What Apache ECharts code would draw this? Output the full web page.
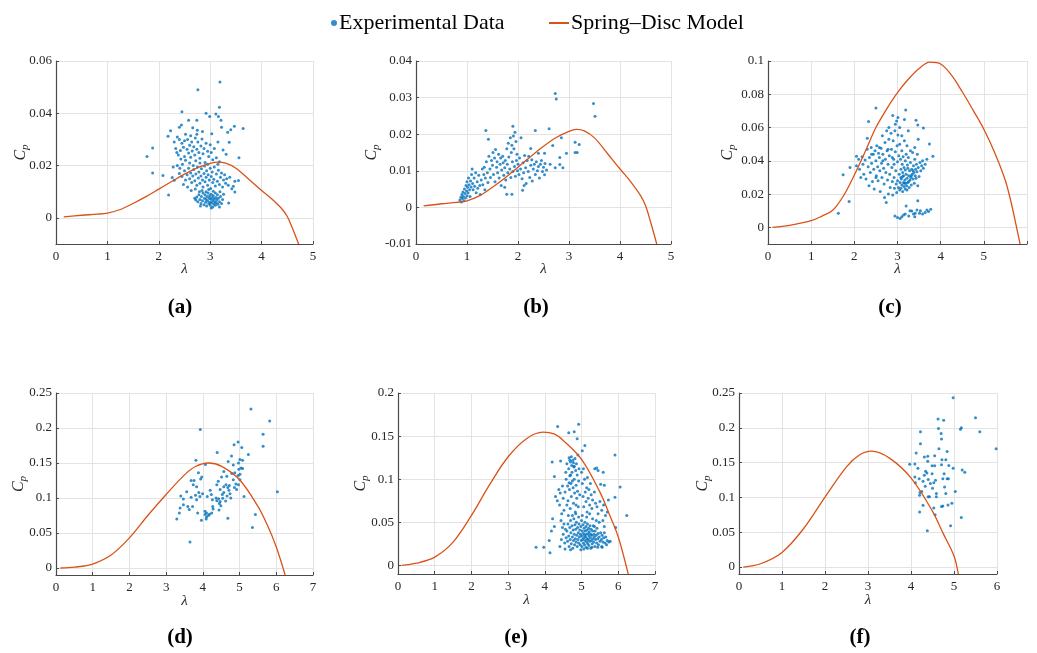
<!DOCTYPE html>
<html><head><meta charset="utf-8">
<script src="https://cdn.jsdelivr.net/npm/echarts@6/dist/echarts.min.js"></script>
<style>html,body{margin:0;padding:0;background:#fff}#c{width:1037px;height:653px}</style>
</head><body><div id="c"></div>
<script>
// ---------------- data ----------------
const seriesNames = ['Experimental Data', 'Spring–Disc Model'];
const panelLabels = ['(a)', '(b)', '(c)', '(d)', '(e)', '(f)'];

const xTicks5 = [0, 1, 2, 3, 4, 5];
const xTicks6 = [0, 1, 2, 3, 4, 5, 6];
const xTicks7 = [0, 1, 2, 3, 4, 5, 6, 7];
const xLabelsC = [0, 1, 2, 3, 4, 5];
const yTicksA = [0, 0.02, 0.04, 0.06];
const yTicksB = [-0.01, 0, 0.01, 0.02, 0.03, 0.04];
const yTicksC = [0, 0.02, 0.04, 0.06, 0.08, 0.1];
const yTicksD = [0, 0.05, 0.1, 0.15, 0.2, 0.25];
const yTicksE = [0, 0.05, 0.1, 0.15, 0.2];
const yTicksF = [0, 0.05, 0.1, 0.15, 0.2, 0.25];

const curveAB = [[0.15,0.0004],[0.5,0.0010],[0.8,0.0014],[1.0,0.0018],[1.25,0.0032],[1.5,0.0055],[1.75,0.0081],[2.0,0.0110],[2.25,0.0139],[2.5,0.0167],[2.75,0.0191],[3.0,0.0208],[3.15,0.0213],[3.3,0.0209],[3.5,0.0190],[3.75,0.0148],[4.0,0.0105],[4.2,0.0072],[4.4,0.0033],[4.5,0.0005],[4.6,-0.0040],[4.72,-0.0100]];
const curveC = [[0.1,0],[0.5,0.0012],[1.0,0.0040],[1.25,0.0068],[1.5,0.0103],[1.75,0.0190],[2.0,0.0315],[2.25,0.0455],[2.5,0.0600],[2.75,0.0712],[3.0,0.0810],[3.25,0.0890],[3.5,0.0955],[3.75,0.0993],[4.0,0.0982],[4.25,0.0915],[4.5,0.0815],[4.75,0.0705],[5.0,0.0590],[5.25,0.0450],[5.5,0.0280],[5.65,0.0130],[5.75,0.0010],[5.84,-0.0100]];
const curveD = [[0.12,0],[0.5,0.0012],[1.0,0.0057],[1.5,0.0185],[2.0,0.0430],[2.5,0.0750],[3.0,0.1050],[3.5,0.1330],[3.8,0.1450],[4.15,0.1500],[4.5,0.1455],[5.0,0.1260],[5.5,0.0880],[5.75,0.0620],[6.0,0.0300],[6.24,-0.0100]];
const curveE = [[0.1,0],[0.5,0.0025],[1.0,0.0096],[1.5,0.0270],[2.0,0.0580],[2.5,0.0940],[3.0,0.1260],[3.5,0.1470],[3.95,0.1545],[4.25,0.1525],[4.5,0.1450],[5.0,0.1230],[5.5,0.0850],[5.75,0.0600],[6.0,0.0330],[6.27,-0.0100]];
const curveF = [[0.1,0],[0.5,0.0047],[1.0,0.0210],[1.5,0.0550],[2.0,0.1005],[2.5,0.1440],[2.8,0.1610],[3.08,0.1665],[3.5,0.1565],[4.0,0.1280],[4.5,0.0800],[4.75,0.0480],[5.0,0.0160],[5.1,-0.0100]];

const ptsA = [
[3.19,0.0520],[2.76,0.0490],[3.18,0.0423],[2.45,0.0406],[2.92,0.0400],[2.99,0.0388],[3.11,0.0397],[3.16,0.0388],[3.21,0.0373],[2.74,0.0373],[2.58,0.0373],[2.44,0.0355],[2.40,0.0347],[3.64,0.0342],[3.47,0.0350],[3.40,0.0337],[3.34,0.0327],[3.22,0.0347],[2.23,0.0333],[2.18,0.0312],[2.36,0.0309],[2.62,0.0314],[2.74,0.0320],[2.85,0.0330],[3.03,0.0322],[3.37,0.0289],[1.88,0.0267],[1.77,0.0235],[1.88,0.0172],[2.08,0.0162],[2.19,0.0087],[3.31,0.0243],[3.56,0.0230],[2.26,0.0154],[2.30,0.0144],[3.48,0.0140],[3.55,0.0143],[3.45,0.0121],[3.42,0.0111],[3.48,0.0099],[3.36,0.0057],[3.18,0.0042],
[2.30,0.0290],[2.33,0.0265],[2.35,0.0250],[2.38,0.0240],[2.40,0.0300],[2.42,0.0258],[2.43,0.0225],[2.45,0.0285],[2.46,0.0205],[2.48,0.0270],[2.50,0.0295],[2.50,0.0235],[2.52,0.0220],[2.55,0.0262],[2.56,0.0300],[2.58,0.0248],[2.60,0.0278],[2.60,0.0210],[2.62,0.0232],[2.64,0.0290],[2.65,0.0256],[2.67,0.0200],[2.68,0.0272],[2.70,0.0240],[2.71,0.0305],[2.72,0.0218],[2.74,0.0262],[2.75,0.0335],[2.76,0.0290],[2.78,0.0250],[2.80,0.0228],[2.82,0.0275],[2.84,0.0302],[2.86,0.0245],[2.88,0.0265],[2.90,0.0212],[2.92,0.0285],[2.95,0.0255],[2.97,0.0235],[3.00,0.0280],[3.02,0.0250],[3.05,0.0222],[3.08,0.0265],[3.12,0.0230],[3.15,0.0290],[3.18,0.0215],[3.25,0.0260],[2.28,0.0195],[2.36,0.0200],[2.41,0.0190],[2.66,0.0345],[2.52,0.0320],
[2.40,0.0170],[2.45,0.0158],[2.50,0.0180],[2.52,0.0145],[2.55,0.0165],[2.58,0.0190],[2.60,0.0150],[2.62,0.0172],[2.64,0.0135],[2.66,0.0160],[2.68,0.0185],[2.70,0.0142],[2.72,0.0168],[2.74,0.0125],[2.75,0.0195],[2.77,0.0152],[2.78,0.0175],[2.80,0.0132],[2.82,0.0160],[2.83,0.0188],[2.85,0.0145],[2.86,0.0118],[2.88,0.0170],[2.89,0.0198],[2.90,0.0138],[2.92,0.0155],[2.93,0.0180],[2.95,0.0125],[2.96,0.0165],[2.98,0.0145],[3.00,0.0190],[3.01,0.0112],[3.02,0.0158],[3.04,0.0175],[3.05,0.0135],[3.07,0.0148],[3.08,0.0195],[3.10,0.0122],[3.12,0.0168],[3.14,0.0140],[3.16,0.0182],[3.18,0.0128],[3.20,0.0155],[3.22,0.0172],[3.24,0.0118],[3.26,0.0145],[3.28,0.0165],[3.30,0.0132],[3.32,0.0150],[3.35,0.0125],[2.48,0.0128],[2.56,0.0118],[2.63,0.0105],[2.71,0.0110],[2.79,0.0100],[3.38,0.0155],[3.15,0.0205],[2.95,0.0205],[2.80,0.0210],
[2.70,0.0075],[2.72,0.0068],[2.74,0.0080],[2.76,0.0062],[2.78,0.0088],[2.80,0.0070],[2.82,0.0055],[2.83,0.0082],[2.85,0.0065],[2.86,0.0095],[2.88,0.0050],[2.89,0.0075],[2.90,0.0088],[2.91,0.0060],[2.92,0.0070],[2.93,0.0045],[2.94,0.0082],[2.95,0.0065],[2.96,0.0095],[2.97,0.0055],[2.98,0.0075],[2.99,0.0085],[3.00,0.0060],[3.00,0.0048],[3.01,0.0072],[3.02,0.0090],[3.03,0.0058],[3.04,0.0078],[3.05,0.0066],[3.05,0.0042],[3.06,0.0085],[3.07,0.0053],[3.08,0.0072],[3.09,0.0062],[3.10,0.0095],[3.10,0.0048],[3.11,0.0078],[3.12,0.0058],[3.13,0.0068],[3.14,0.0088],[3.15,0.0052],[3.16,0.0075],[3.18,0.0062],[3.19,0.0100],[3.20,0.0082],[3.22,0.0055],[3.24,0.0070],[3.26,0.0090],[2.84,0.0105],[2.97,0.0108],[3.06,0.0102],[3.02,0.0038],[2.92,0.0100],[2.81,0.0045]
];

const ptsB = [
[2.73,0.0311],[2.75,0.0296],[3.48,0.0284],[3.51,0.0249],[2.61,0.0215],[2.34,0.0210],[1.37,0.0210],[1.42,0.0186],[1.90,0.0222],[2.85,0.0190],[2.68,0.0169],[3.12,0.0178],[3.20,0.0172],[3.12,0.0150],[3.16,0.0150],[2.95,0.0148],[2.82,0.0136],[2.82,0.0117],[2.73,0.0108],[2.88,0.0108],[2.63,0.0118],[2.52,0.0148],[2.52,0.0089],[2.25,0.0161],[2.09,0.0047],[1.88,0.0036],[1.78,0.0036],
[0.86,0.0020],[0.88,0.0028],[0.89,0.0015],[0.90,0.0035],[0.91,0.0024],[0.92,0.0042],[0.93,0.0030],[0.94,0.0018],[0.95,0.0050],[0.96,0.0038],[0.97,0.0026],[0.98,0.0060],[0.99,0.0045],[1.00,0.0032],[1.00,0.0070],[1.01,0.0055],[1.02,0.0040],[1.03,0.0080],[1.04,0.0062],[1.05,0.0048],[1.06,0.0030],[1.07,0.0072],[1.08,0.0056],[1.09,0.0090],[1.10,0.0105],[1.11,0.0065],[1.12,0.0048],[1.14,0.0080],[1.15,0.0058],[1.17,0.0095],[1.18,0.0040],[1.20,0.0070],[1.21,0.0052],[1.23,0.0088],[1.25,0.0060],[1.26,0.0035],[1.28,0.0075],[1.30,0.0105],[1.31,0.0062],[1.33,0.0090],[1.35,0.0048],
[1.34,0.0110],[1.36,0.0080],[1.38,0.0125],[1.40,0.0095],[1.41,0.0068],[1.43,0.0140],[1.45,0.0105],[1.46,0.0082],[1.48,0.0128],[1.50,0.0115],[1.51,0.0150],[1.52,0.0090],[1.54,0.0135],[1.55,0.0070],[1.56,0.0158],[1.58,0.0110],[1.59,0.0125],[1.60,0.0095],[1.62,0.0145],[1.63,0.0080],[1.65,0.0118],[1.66,0.0135],[1.67,0.0060],[1.68,0.0102],[1.70,0.0140],[1.71,0.0122],[1.72,0.0088],[1.74,0.0108],[1.75,0.0128],[1.76,0.0075],[1.78,0.0160],[1.79,0.0118],[1.80,0.0095],[1.81,0.0175],[1.82,0.0138],[1.84,0.0105],[1.85,0.0190],[1.86,0.0082],[1.87,0.0150],[1.88,0.0170],[1.89,0.0125],[1.90,0.0098],[1.91,0.0195],[1.92,0.0160],[1.93,0.0112],[1.94,0.0205],[1.95,0.0085],[1.96,0.0180],[1.97,0.0128],[1.98,0.0145],[1.99,0.0100],
[2.00,0.0118],[2.02,0.0090],[2.03,0.0135],[2.05,0.0105],[2.06,0.0190],[2.08,0.0078],[2.10,0.0122],[2.11,0.0095],[2.13,0.0142],[2.15,0.0108],[2.16,0.0065],[2.18,0.0128],[2.20,0.0098],[2.21,0.0140],[2.23,0.0082],[2.25,0.0115],[2.27,0.0130],[2.28,0.0072],[2.30,0.0105],[2.32,0.0118],[2.34,0.0090],[2.36,0.0125],[2.38,0.0100],[2.40,0.0112],[2.42,0.0080],[2.44,0.0118],[2.46,0.0128],[2.48,0.0098],[2.50,0.0110],[2.53,0.0120],[2.56,0.0102],[2.40,0.0148],[2.12,0.0060],[1.74,0.0055]
];

const ptsC = [
[2.50,0.0718],[3.19,0.0706],[2.89,0.0672],[3.01,0.0660],[3.16,0.0648],[3.43,0.0644],[2.33,0.0636],[3.47,0.0616],[3.60,0.0598],[3.74,0.0501],[3.82,0.0427],[1.63,0.0085],[1.88,0.0155],[1.74,0.0316],[1.90,0.0360],[2.05,0.0427],[2.30,0.0535],[3.47,0.0160],[3.47,0.0250],
[2.94,0.0068],[3.06,0.0054],[3.10,0.0064],[3.14,0.0074],[3.20,0.0129],[3.26,0.0068],[3.33,0.0099],[3.37,0.0080],[3.40,0.0064],[3.45,0.0105],[3.51,0.0085],[3.58,0.0080],[3.64,0.0089],[3.68,0.0105],[3.72,0.0095],[3.77,0.0109],[3.00,0.0060],[3.18,0.0080],[3.29,0.0100],[3.41,0.0085],[3.53,0.0100],
[2.05,0.0370],[2.10,0.0410],[2.12,0.0350],[2.15,0.0300],[2.18,0.0425],[2.20,0.0380],[2.22,0.0320],[2.25,0.0405],[2.27,0.0290],[2.30,0.0470],[2.32,0.0365],[2.34,0.0250],[2.35,0.0420],[2.37,0.0330],[2.39,0.0480],[2.40,0.0385],[2.42,0.0275],[2.44,0.0440],[2.45,0.0350],[2.46,0.0230],[2.48,0.0460],[2.50,0.0400],[2.51,0.0310],[2.52,0.0490],[2.54,0.0365],[2.55,0.0280],[2.56,0.0445],[2.58,0.0420],[2.59,0.0340],[2.60,0.0215],[2.62,0.0475],[2.63,0.0385],[2.64,0.0300],[2.65,0.0550],[2.66,0.0440],[2.68,0.0355],[2.69,0.0260],[2.70,0.0180],[2.71,0.0510],[2.72,0.0410],[2.73,0.0330],[2.74,0.0150],[2.75,0.0580],[2.76,0.0460],[2.77,0.0285],[2.78,0.0380],[2.79,0.0200],[2.80,0.0530],[2.81,0.0430],[2.82,0.0320],[2.83,0.0240],
[2.85,0.0565],[2.86,0.0470],[2.87,0.0360],[2.88,0.0275],[2.89,0.0195],[2.90,0.0520],[2.91,0.0410],[2.92,0.0300],[2.93,0.0235],[2.94,0.0580],[2.95,0.0455],[2.96,0.0340],[2.97,0.0260],[2.98,0.0210],[2.99,0.0490],[3.00,0.0395],[3.00,0.0280],[3.01,0.0555],[3.02,0.0240],[3.03,0.0430],[3.04,0.0320],[3.05,0.0225],[3.05,0.0500],[3.06,0.0270],[3.07,0.0410],[3.08,0.0350],[3.08,0.0235],[3.09,0.0290],[3.10,0.0460],[3.10,0.0255],[3.11,0.0380],[3.12,0.0215],[3.12,0.0305],[3.13,0.0425],[3.14,0.0270],[3.15,0.0245],[3.15,0.0360],[3.16,0.0520],[3.17,0.0285],[3.18,0.0230],[3.18,0.0400],[3.19,0.0265],[3.20,0.0320],[3.20,0.0440],
[3.21,0.0250],[3.22,0.0295],[3.23,0.0375],[3.24,0.0270],[3.25,0.0420],[3.26,0.0310],[3.27,0.0240],[3.28,0.0340],[3.29,0.0285],[3.30,0.0390],[3.31,0.0300],[3.32,0.0255],[3.33,0.0350],[3.34,0.0320],[3.35,0.0450],[3.36,0.0290],[3.37,0.0370],[3.38,0.0330],[3.39,0.0265],[3.40,0.0410],[3.41,0.0310],[3.42,0.0350],[3.43,0.0295],[3.44,0.0380],[3.45,0.0335],[3.46,0.0440],[3.48,0.0360],[3.50,0.0305],[3.52,0.0390],[3.54,0.0340],[3.56,0.0370],[3.58,0.0400],[3.60,0.0355],[3.64,0.0380],[3.68,0.0410],[3.40,0.0480],[3.30,0.0460],[3.22,0.0490],[3.10,0.0550],[3.05,0.0600],[2.95,0.0620],[2.98,0.0640],[3.25,0.0580],[3.48,0.0530],[3.12,0.0330],[3.18,0.0345],[3.24,0.0355],[3.14,0.0310],[3.08,0.0300],[3.16,0.0265],[3.26,0.0275],[3.32,0.0310],[3.36,0.0340],[3.22,0.0225],[2.88,0.0420],[2.92,0.0380],[2.78,0.0470],[2.66,0.0400],[2.58,0.0480],[2.40,0.0440],[2.50,0.0300],[2.80,0.0600]
];

const ptsD = [
[5.31,0.227],[5.82,0.210],[3.93,0.198],[5.64,0.191],[5.64,0.174],[4.96,0.180],[4.85,0.176],[5.06,0.172],[4.39,0.165],[5.24,0.162],[4.78,0.160],[3.81,0.154],[4.69,0.152],[5.08,0.154],[4.97,0.150],[5.01,0.155],[4.07,0.148],[4.83,0.147],[5.04,0.143],[4.98,0.141],[5.08,0.142],[4.57,0.138],[3.88,0.136],[4.87,0.136],[4.79,0.135],[5.01,0.134],[4.96,0.132],[4.65,0.131],[4.51,0.130],[3.97,0.130],[4.83,0.126],[5.01,0.126],[3.68,0.125],[3.76,0.125],[3.94,0.127],[4.42,0.124],[4.63,0.119],[4.72,0.118],[4.90,0.120],[4.97,0.119],[3.74,0.119],[4.38,0.119],[4.57,0.116],[3.83,0.116],[4.68,0.115],[4.86,0.115],[4.92,0.112],[4.47,0.112],[4.20,0.111],[4.71,0.111],[3.56,0.109],[3.89,0.108],[4.57,0.108],[4.74,0.106],[3.40,0.103],[3.80,0.104],[3.99,0.106],[4.23,0.105],[4.53,0.105],[4.66,0.103],[5.12,0.102],[3.68,0.101],[3.92,0.102],[4.12,0.102],[4.36,0.100],[4.43,0.099],[4.54,0.0995],[4.76,0.100],[3.47,0.0986],[3.83,0.0976],[4.26,0.0976],[4.38,0.0962],[4.62,0.0957],[3.47,0.0905],[3.59,0.088],[3.72,0.0877],[4.45,0.092],[4.49,0.089],[4.27,0.088],[4.28,0.0844],[4.44,0.083],[3.38,0.0858],[3.63,0.0834],[4.06,0.081],[4.10,0.0787],[4.24,0.0787],[4.06,0.0763],[4.15,0.0749],[4.10,0.073],[4.09,0.0701],[3.29,0.0701],[3.86,0.0787],[3.96,0.0682],[4.68,0.071],[3.36,0.0787],[5.35,0.058],[5.43,0.0763],[6.03,0.109],[3.65,0.037],[4.18,0.0768],[4.47,0.095]
];

const ptsE = [
[4.92,0.1636],[4.35,0.1610],[4.65,0.1540],[4.80,0.1550],[4.88,0.1470],[5.09,0.1390],[5.02,0.1330],[5.91,0.1280],[4.20,0.1200],[4.43,0.1210],[4.26,0.1030],[5.41,0.1130],[5.59,0.1080],[6.05,0.0910],[5.91,0.0790],[5.62,0.0930],[5.73,0.0760],[6.23,0.0580],[5.93,0.0440],[4.29,0.0800],[4.34,0.0750],[4.21,0.0540],[4.26,0.0450],[4.18,0.0400],[4.12,0.0290],[3.76,0.0210],[3.97,0.0210],[4.14,0.0146],[4.41,0.0220],[4.55,0.0190],[4.70,0.0180],
[4.55,0.085],[4.58,0.100],[4.60,0.118],[4.62,0.092],[4.63,0.075],[4.65,0.112],[4.66,0.125],[4.67,0.088],[4.68,0.104],[4.69,0.066],[4.70,0.120],[4.71,0.095],[4.72,0.080],[4.73,0.116],[4.74,0.108],[4.75,0.058],[4.76,0.122],[4.77,0.090],[4.78,0.072],[4.79,0.114],[4.80,0.100],[4.81,0.084],[4.82,0.124],[4.83,0.062],[4.84,0.110],[4.85,0.093],[4.86,0.118],[4.87,0.078],[4.88,0.105],[4.89,0.086],[4.90,0.128],[4.91,0.068],[4.92,0.098],[4.93,0.112],[4.95,0.082],[4.60,0.070],[4.64,0.058],[4.70,0.105],[4.75,0.098],[4.80,0.115],[4.85,0.070],[4.68,0.122],[4.72,0.126],[4.78,0.119],[4.66,0.096],[4.57,0.108],[4.52,0.064],[4.50,0.078],[4.48,0.092],[4.46,0.060],[4.42,0.084],[4.40,0.070],[4.38,0.088],[4.44,0.052],
[5.00,0.108],[5.02,0.095],[5.04,0.080],[5.05,0.112],[5.06,0.068],[5.08,0.100],[5.10,0.085],[5.12,0.074],[5.14,0.090],[5.15,0.062],[5.16,0.102],[5.18,0.078],[5.20,0.088],[5.22,0.070],[5.24,0.095],[5.26,0.082],[5.28,0.066],[5.30,0.076],[5.35,0.085],[5.38,0.072],[5.42,0.068],[5.45,0.060],[5.50,0.074],[5.55,0.064],[5.60,0.070],[5.65,0.058],[5.70,0.062],[5.36,0.112],[5.45,0.110],[5.52,0.094],[5.48,0.050],[5.58,0.052],[5.62,0.045],
[4.60,0.040],[4.62,0.028],[4.63,0.048],[4.65,0.034],[4.66,0.022],[4.68,0.044],[4.69,0.030],[4.70,0.052],[4.71,0.038],[4.72,0.025],[4.74,0.046],[4.75,0.033],[4.76,0.020],[4.77,0.041],[4.78,0.029],[4.79,0.054],[4.80,0.036],[4.81,0.024],[4.82,0.047],[4.83,0.031],[4.84,0.042],[4.85,0.027],[4.86,0.050],[4.87,0.035],[4.88,0.022],[4.89,0.044],[4.90,0.030],[4.91,0.038],[4.92,0.026],[4.93,0.048],[4.94,0.033],[4.95,0.041],[4.96,0.024],[4.97,0.036],[4.98,0.045],[4.99,0.029],[5.00,0.052],[5.00,0.034],[5.01,0.022],[5.02,0.040],[5.03,0.030],[5.04,0.047],[5.05,0.026],[5.05,0.037],[5.06,0.032],[5.07,0.043],[5.08,0.024],[5.08,0.035],[5.09,0.050],[5.10,0.029],[5.10,0.040],[5.11,0.033],[5.12,0.021],[5.12,0.045],[5.13,0.036],[5.14,0.027],[5.15,0.041],[5.15,0.031],[5.16,0.048],[5.17,0.025],[5.18,0.037],[5.18,0.030],[5.19,0.043],[5.20,0.034],[5.20,0.023],[5.21,0.039],[5.22,0.028],[5.23,0.046],[5.24,0.032],[5.25,0.036],[5.25,0.020],[5.26,0.042],[5.27,0.029],[5.28,0.035],[5.29,0.025],[5.30,0.040],[5.31,0.031],[5.32,0.046],[5.33,0.027],[5.34,0.036],[5.35,0.033],[5.36,0.022],[5.37,0.040],[5.38,0.030],[5.40,0.035],[5.41,0.026],[5.42,0.043],[5.44,0.031],[5.45,0.037],[5.46,0.024],[5.48,0.033],[5.50,0.028],[5.52,0.038],[5.54,0.030],[5.55,0.022],[5.56,0.035],[5.58,0.027],[5.60,0.032],[5.62,0.038],[5.64,0.026],[5.66,0.033],[5.70,0.029],[5.74,0.027],[5.78,0.028],[4.50,0.036],[4.52,0.048],[4.54,0.026],[4.56,0.042],[4.58,0.032],[4.45,0.030],[4.48,0.044],[5.02,0.058],[5.14,0.056],[5.22,0.060],[5.30,0.054],[4.92,0.056],[4.84,0.060],[5.40,0.052],[5.35,0.045],[4.98,0.018],[5.06,0.019],[5.16,0.020],[5.28,0.021],[5.44,0.021],[5.56,0.021],[5.68,0.024]
];

const ptsF = [
[4.98,0.243],[5.50,0.2145],[4.63,0.2125],[4.76,0.211],[5.17,0.200],[5.15,0.198],[4.64,0.199],[5.60,0.1945],[4.22,0.1945],[4.70,0.192],[4.71,0.184],[4.22,0.177],[4.65,0.170],[5.98,0.170],[4.12,0.1637],[4.84,0.166],[4.31,0.158],[4.72,0.154],[4.55,0.160],[4.39,0.159],[4.81,0.154],[3.97,0.1475],[4.09,0.148],[4.39,0.152],[4.71,0.147],[4.88,0.146],[4.49,0.1456],[4.55,0.1456],[4.98,0.142],[4.16,0.142],[5.19,0.1395],[5.25,0.136],[4.34,0.1376],[4.37,0.135],[4.49,0.134],[4.77,0.134],[4.31,0.132],[4.09,0.1295],[4.19,0.1267],[4.40,0.1257],[4.57,0.1248],[4.74,0.127],[4.84,0.1267],[4.87,0.1267],[4.10,0.121],[4.28,0.1233],[4.53,0.121],[4.33,0.116],[4.78,0.115],[4.50,0.113],[4.25,0.1086],[4.59,0.1058],[4.81,0.1058],[5.03,0.1086],[4.20,0.103],[4.43,0.101],[4.40,0.101],[4.59,0.101],[4.28,0.0887],[4.86,0.0892],[4.74,0.0877],[4.71,0.0868],[4.95,0.0916],[4.53,0.0849],[4.20,0.0792],[4.56,0.075],[5.17,0.0712],[4.92,0.0593],[4.38,0.0522],[4.21,0.107],[4.45,0.120]
];

// ---------------- chart ----------------
const panels = [
  {pts: ptsA, curve: curveAB, xMax: 5, yMax: 0.06, xT: xTicks5, xL: xTicks5, yT: yTicksA},
  {pts: ptsB, curve: curveAB, xMax: 5, yMax: 0.04, xT: xTicks5, xL: xTicks5, yT: yTicksB},
  {pts: ptsC, curve: curveC, xMax: 6, yMax: 0.1, xT: xTicks6, xL: xLabelsC, yT: yTicksC},
  {pts: ptsD, curve: curveD, xMax: 7, yMax: 0.25, xT: xTicks7, xL: xTicks7, yT: yTicksD},
  {pts: ptsE, curve: curveE, xMax: 7, yMax: 0.2, xT: xTicks7, xL: xTicks7, yT: yTicksE},
  {pts: ptsF, curve: curveF, xMax: 6, yMax: 0.25, xT: xTicks6, xL: xTicks6, yT: yTicksF}
];
const yMin = -0.01;

const layout = [
  {left: 56, top: 61, width: 257, height: 183, yGap: 25, xGap: 18, cap: [180, 308]},
  {left: 416, top: 61, width: 255, height: 183, yGap: 34, xGap: 18, cap: [536, 308]},
  {left: 768, top: 61, width: 259, height: 183, yGap: 30, xGap: 18, cap: [890, 308]},
  {left: 56, top: 393, width: 257, height: 182, yGap: 27, xGap: 19, cap: [180, 638]},
  {left: 398, top: 393, width: 257, height: 181, yGap: 27, xGap: 19, cap: [516, 638]},
  {left: 739, top: 393, width: 258, height: 181, yGap: 26, xGap: 19, cap: [860, 638]}
];

const FONT = 'Liberation Serif';
const BLUE = '#0072BD';
const ORANGE = '#D95319';
const AXIS = '#4a4a4a';
const GRIDC = '#e3e3e3';
const TXT = '#262626';

const grids = [], xAxes = [], yAxes = [], series = [], graphics = [];
panels.forEach((p, i) => {
  const L = layout[i];
  grids.push({left: L.left, top: L.top, width: L.width, height: L.height, containLabel: false});
  xAxes.push({
    type: 'value', gridIndex: i, min: 0, max: p.xMax,
    name: 'λ', nameLocation: 'middle', nameGap: L.xGap, nameMoveOverlap: false,
    nameTextStyle: {fontFamily: FONT, fontSize: 15, color: TXT, fontStyle: 'italic'},
    axisLine: {show: true, onZero: false, lineStyle: {color: AXIS, width: 1.2}},
    axisTick: {show: true, inside: true, length: 3, customValues: p.xT, lineStyle: {color: AXIS}},
    axisLabel: {customValues: p.xL, fontFamily: FONT, fontSize: 13, color: TXT, margin: 6},
    splitLine: {show: true, lineStyle: {color: GRIDC, width: 1}}
  });
  yAxes.push({
    type: 'value', gridIndex: i, min: yMin, max: p.yMax,
    name: '{c|C}{p|p}', nameLocation: 'middle', nameGap: L.yGap, nameRotate: 90, nameMoveOverlap: false,
    nameTextStyle: {
      color: TXT,
      rich: {
        c: {fontFamily: FONT, fontSize: 16, fontStyle: 'italic', color: TXT, lineHeight: 20, verticalAlign: 'middle'},
        p: {fontFamily: FONT, fontSize: 11, fontStyle: 'italic', color: TXT, lineHeight: 20, verticalAlign: 'bottom'}
      }
    },
    axisLine: {show: true, onZero: false, lineStyle: {color: AXIS, width: 1.2}},
    axisTick: {show: true, inside: true, length: 3, customValues: p.yT, lineStyle: {color: AXIS}},
    axisLabel: {customValues: p.yT, fontFamily: FONT, fontSize: 13, color: TXT, margin: 4},
    splitLine: {show: true, lineStyle: {color: GRIDC, width: 1}}
  });
  series.push({
    name: seriesNames[0], type: 'scatter', xAxisIndex: i, yAxisIndex: i,
    data: p.pts, symbol: 'circle', symbolSize: 3, itemStyle: {color: BLUE}, z: 3
  });
  series.push({
    name: seriesNames[1], type: 'line', xAxisIndex: i, yAxisIndex: i,
    data: p.curve, symbol: 'none', showSymbol: false, smooth: 0.35, clip: true,
    lineStyle: {color: ORANGE, width: 1.3}, itemStyle: {color: ORANGE}, z: 4
  });
  graphics.push({
    type: 'text', x: L.cap[0], y: L.cap[1],
    style: {text: panelLabels[i], font: 'bold 21px "' + FONT + '"', fill: '#000',
            align: 'center', verticalAlign: 'middle', textAlign: 'center', textVerticalAlign: 'middle'}
  });
});

const chart = echarts.init(document.getElementById('c'), null, {renderer: 'canvas'});
chart.setOption({
  animation: false,
  backgroundColor: '#fff',
  legend: [
    {data: [{name: seriesNames[0], icon: 'circle'}], left: 326, top: 7, itemWidth: 6, itemHeight: 6, itemGap: 4,
     textStyle: {fontFamily: FONT, fontSize: 22, color: '#000', padding: [0, 0, 0, -3]}, selectedMode: false},
    {data: [{name: seriesNames[1], icon: 'rect'}], left: 544, top: 7, itemWidth: 20, itemHeight: 2,
     textStyle: {fontFamily: FONT, fontSize: 22, color: '#000', padding: [0, 0, 0, -3]}, selectedMode: false}
  ],
  grid: grids,
  xAxis: xAxes,
  yAxis: yAxes,
  series: series,
  graphic: graphics
});
</script>
</body></html>
